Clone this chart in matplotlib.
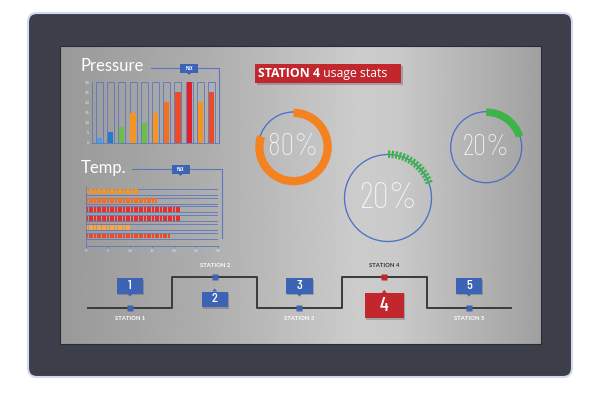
import numpy as np
import matplotlib
matplotlib.use("Agg")
import matplotlib.pyplot as plt
from matplotlib.patches import FancyBboxPatch, Rectangle, Polygon

# ---- data ----
pressure_vals = [2.2, 5.5, 8, 15, 10, 15, 20, 25, 30, 20, 25]
pressure_colors = ["#4a9fe0", "#2878c8", "#6dbf44", "#f7941d", "#6dbf44", "#f7941d",
                   "#f36f21", "#ef4a23", "#e61e27", "#f7941d", "#ef4a23"]
pressure_ticks = [0, 5, 10, 15, 20, 25, 30]

temp_vals = [12, 16, 21.5, 21.5, 10, 19.5]
temp_colors = ["#f7941d", "#f36f21", "#e8302a", "#e8302a", "#f9a541", "#ef4a23"]
temp_ticks = [0, 5, 10, 15, 20, 25, 30]
scale_max = 30

donut_vals = [80, 20, 20]
donut_colors = ["#f58220", "#3cb44a", "#3cb44a"]
donut_labels = ["80%", "20%", "20%"]

stations = ["STATION 1", "STATION 2", "STATION 3", "STATION 4", "STATION 5"]
station_num = ["1", "2", "3", "4", "5"]
station_level = [0, 1, 0, 1, 0]
selected = 3

W, H = 600, 394
BLUE = "#3d64b4"
LINE = "#5a78c0"
RED = "#c1272d"

fig = plt.figure(figsize=(6, 3.94), dpi=100)
fig.patch.set_facecolor("white")


def px_axes(x0, y0, x1, y1):
    return fig.add_axes([x0 / W, 1 - y1 / H, (x1 - x0) / W, (y1 - y0) / H])


# background / monitor in pixel coords
bg = px_axes(0, 0, W, H)
bg.set_xlim(0, W)
bg.set_ylim(H, 0)
bg.axis("off")
bg.add_patch(FancyBboxPatch((28, 13), 544, 364, boxstyle="round,pad=0,rounding_size=9",
                            fc="#3c3f4a", ec="#d3daf0", lw=1.5))
gx = np.linspace(0, 1, 400)
gv = np.interp(gx, [0, 0.3, 0.62, 0.7, 1.0], [0.60, 0.68, 0.80, 0.79, 0.63])
bg.imshow(gv[None, :], extent=(60, 541, 344, 46), cmap="gray", vmin=0, vmax=1,
          aspect="auto", interpolation="bilinear", zorder=2)
bg.add_patch(Rectangle((60, 46), 481, 298, fc="none", ec="#2a2c33", lw=0.8, zorder=3))

# titles & decorations
font_ui = ["Lato", "DejaVu Sans"]
font_head = ["Open Sans", "Lato", "DejaVu Sans"]
font_cond = ["Barlow Condensed", "DejaVu Sans"]
bg.text(81, 66, "Pressure", color="white", fontsize=12, family=font_ui, va="center", zorder=5)
bg.plot([150.7, 219.3, 219.3], [68.3, 68.3, 142.7], color=LINE, lw=0.8, zorder=4)
bg.text(81, 168, "Temp.", color="white", fontsize=12, family=font_ui, va="center", zorder=5)
bg.plot([131.7, 221.7, 221.7], [169, 169, 238], color=LINE, lw=0.8, zorder=4)
for (mx, my) in [(189, 68.5), (180.5, 169.5)]:
    bg.add_patch(Rectangle((mx - 9, my - 4.5), 18, 9, fc=BLUE, ec="none", zorder=5))
    bg.add_patch(Polygon([(mx - 2, my + 4.5), (mx + 2, my + 4.5), (mx, my + 6.5)], fc=BLUE, zorder=5))
    bg.text(mx, my, "MAX", color="white", fontsize=3.8, weight=600, ha="center", va="center",
            family=font_cond, zorder=6)

# header box
bg.add_patch(Rectangle((256.5, 65.5), 146, 19, fc="#555555", alpha=0.35, ec="none", zorder=4))
bg.add_patch(Rectangle((255, 64), 146, 19, fc=RED, ec="none", zorder=5))
t1 = bg.text(258, 73.5, "STATION 4", color="white", fontsize=8.8, weight="bold",
             family=font_head, va="center", zorder=6)
bg.annotate(" usage stats", xy=(1, 0.5), xycoords=t1, va="center", color="white",
            fontsize=8.8, family=font_head, zorder=6)

# ---- pressure bar chart ----
ax_p = px_axes(91.7, 82.3, 219.3, 142.7)
ax_p.patch.set_alpha(0)
xp = np.arange(len(pressure_vals))
ax_p.bar(xp, [scale_max] * len(xp), width=0.62, fill=False, edgecolor=LINE, lw=0.6)
ax_p.bar(xp, pressure_vals, width=0.48, color=pressure_colors)
ax_p.set_xlim(-0.68, 10.68)
ax_p.set_ylim(0, scale_max)
ax_p.set_xticks([])
ax_p.set_yticks(pressure_ticks)
ax_p.tick_params(axis="y", length=0, labelsize=2.8, labelcolor="#e6e6e6", pad=1.5)
for s in ["top", "right"]:
    ax_p.spines[s].set_visible(False)
for s in ["left", "bottom"]:
    ax_p.spines[s].set_color(LINE)
    ax_p.spines[s].set_linewidth(0.6)

# ---- temperature segmented bars ----
ax_t = px_axes(86, 186, 218, 246)
ax_t.patch.set_alpha(0)
seg = 0.6
for i, (v, c) in enumerate(zip(temp_vals, temp_colors)):
    ax_t.add_patch(Rectangle((0, i - 0.34), scale_max, 0.68, fill=False, ec=LINE, lw=0.6))
    n = int(round(v / seg))
    ax_t.broken_barh([(k * seg, seg * 0.75) for k in range(n)], (i - 0.28, 0.56),
                     facecolors=c, antialiased=False)
ax_t.set_xlim(0, scale_max)
ax_t.set_ylim(6.13, -0.64)
ax_t.set_yticks([])
ax_t.set_xticks(temp_ticks)
ax_t.tick_params(axis="x", length=1.2, width=0.5, color=LINE, labelsize=2.8,
                 labelcolor="#e6e6e6", pad=0.8)
for s in ["top", "right"]:
    ax_t.spines[s].set_visible(False)
for s in ["left", "bottom"]:
    ax_t.spines[s].set_color(LINE)
    ax_t.spines[s].set_linewidth(0.6)

# ---- donuts ----
donut_geo = [  # cx, cy, blue radius, arc outer, arc width, text size, segmented
    (293.5, 147, 35, 38.3, 8.3, 22, False),
    (388, 198, 43.5, 47.5, 7.5, 26, True),
    (486.2, 147.2, 35.5, 38.8, 7.6, 21, False),
]
for (cx, cy, rb, ro, wd, fs, segd), v, c, lab in zip(donut_geo, donut_vals, donut_colors, donut_labels):
    R = ro + 2
    ax = px_axes(cx - R, cy - R, cx + R, cy + R)
    ax.pie([1], radius=rb + 0.65, colors=["#4a6fc6"], wedgeprops=dict(width=1.3, lw=0))
    if segd:
        nseg = 15
        step = v / nseg
        parts, cols = [], []
        for k in range(nseg):
            parts += [step * 0.6, step * 0.4]
            cols += [c, "none"]
        parts.append(100 - v)
        cols.append("none")
        ax.pie(parts, radius=ro, startangle=90, counterclock=False, colors=cols,
               wedgeprops=dict(width=wd, lw=0))
    else:
        ax.pie([v, 100 - v], radius=ro, startangle=90, counterclock=False,
               colors=[c, "none"], wedgeprops=dict(width=wd, lw=0))
    ax.text(0, 0, lab, ha="center", va="center", color="#f5f5f5", fontsize=fs,
            family=font_cond, weight=250)
    ax.set_xlim(-R, R)
    ax.set_ylim(-R, R)
    ax.set_aspect("equal")
    ax.axis("off")

# ---- station line ----
ax_s = px_axes(60, 250, 541, 340)
ax_s.patch.set_alpha(0)
sx = np.arange(len(stations))
lx = np.r_[sx[0] - 0.5, sx, sx[-1] + 0.5]
ly = np.r_[station_level[0], station_level, station_level[-1]]
ax_s.step(lx, ly, where="mid", color="#3a3a3a", lw=1.4, zorder=2)
for i, (name, num, lev) in enumerate(zip(stations, station_num, station_level)):
    sel = i == selected
    col = RED if sel else BLUE
    ax_s.plot(i, lev, marker="s", ms=4.5, color=col, mec="none", zorder=4)
    if lev == 0:
        ax_s.text(i, lev - 0.34, name, ha="center", va="center", fontsize=4.2, weight="bold",
                  color="white", family=font_ui)
    else:
        ax_s.text(i, lev + 0.4, name, ha="center", va="center", fontsize=4.2, weight="bold",
                  color="#333333" if sel else "white", family=font_ui)
    bw, bh = (0.46, 0.84) if sel else (0.31, 0.51)
    off = 0.93 if sel else 0.72
    by = lev + off if lev == 0 else lev - off
    ax_s.add_patch(Rectangle((i - bw / 2 + 0.012, by - bh / 2 - 0.05), bw, bh, fc="#444444",
                             alpha=0.3, ec="none", zorder=3))
    ax_s.add_patch(Rectangle((i - bw / 2, by - bh / 2), bw, bh, fc=col, ec="none", zorder=4))
    if lev == 0:
        tri = [(i - 0.03, by - bh / 2), (i + 0.03, by - bh / 2), (i, by - bh / 2 - 0.1)]
    else:
        tri = [(i - 0.03, by + bh / 2), (i + 0.03, by + bh / 2), (i, by + bh / 2 + 0.1)]
    ax_s.add_patch(Polygon(tri, fc=col, ec="none", zorder=4))
    ax_s.text(i, by, num, ha="center", va="center", color="white",
              fontsize=14 if sel else 10, family=font_cond, weight=500, zorder=5)
ax_s.set_xlim(-0.826, 4.85)
ax_s.set_ylim(-1.06, 1.9)
ax_s.axis("off")

fig.savefig("out.png", dpi=100)
